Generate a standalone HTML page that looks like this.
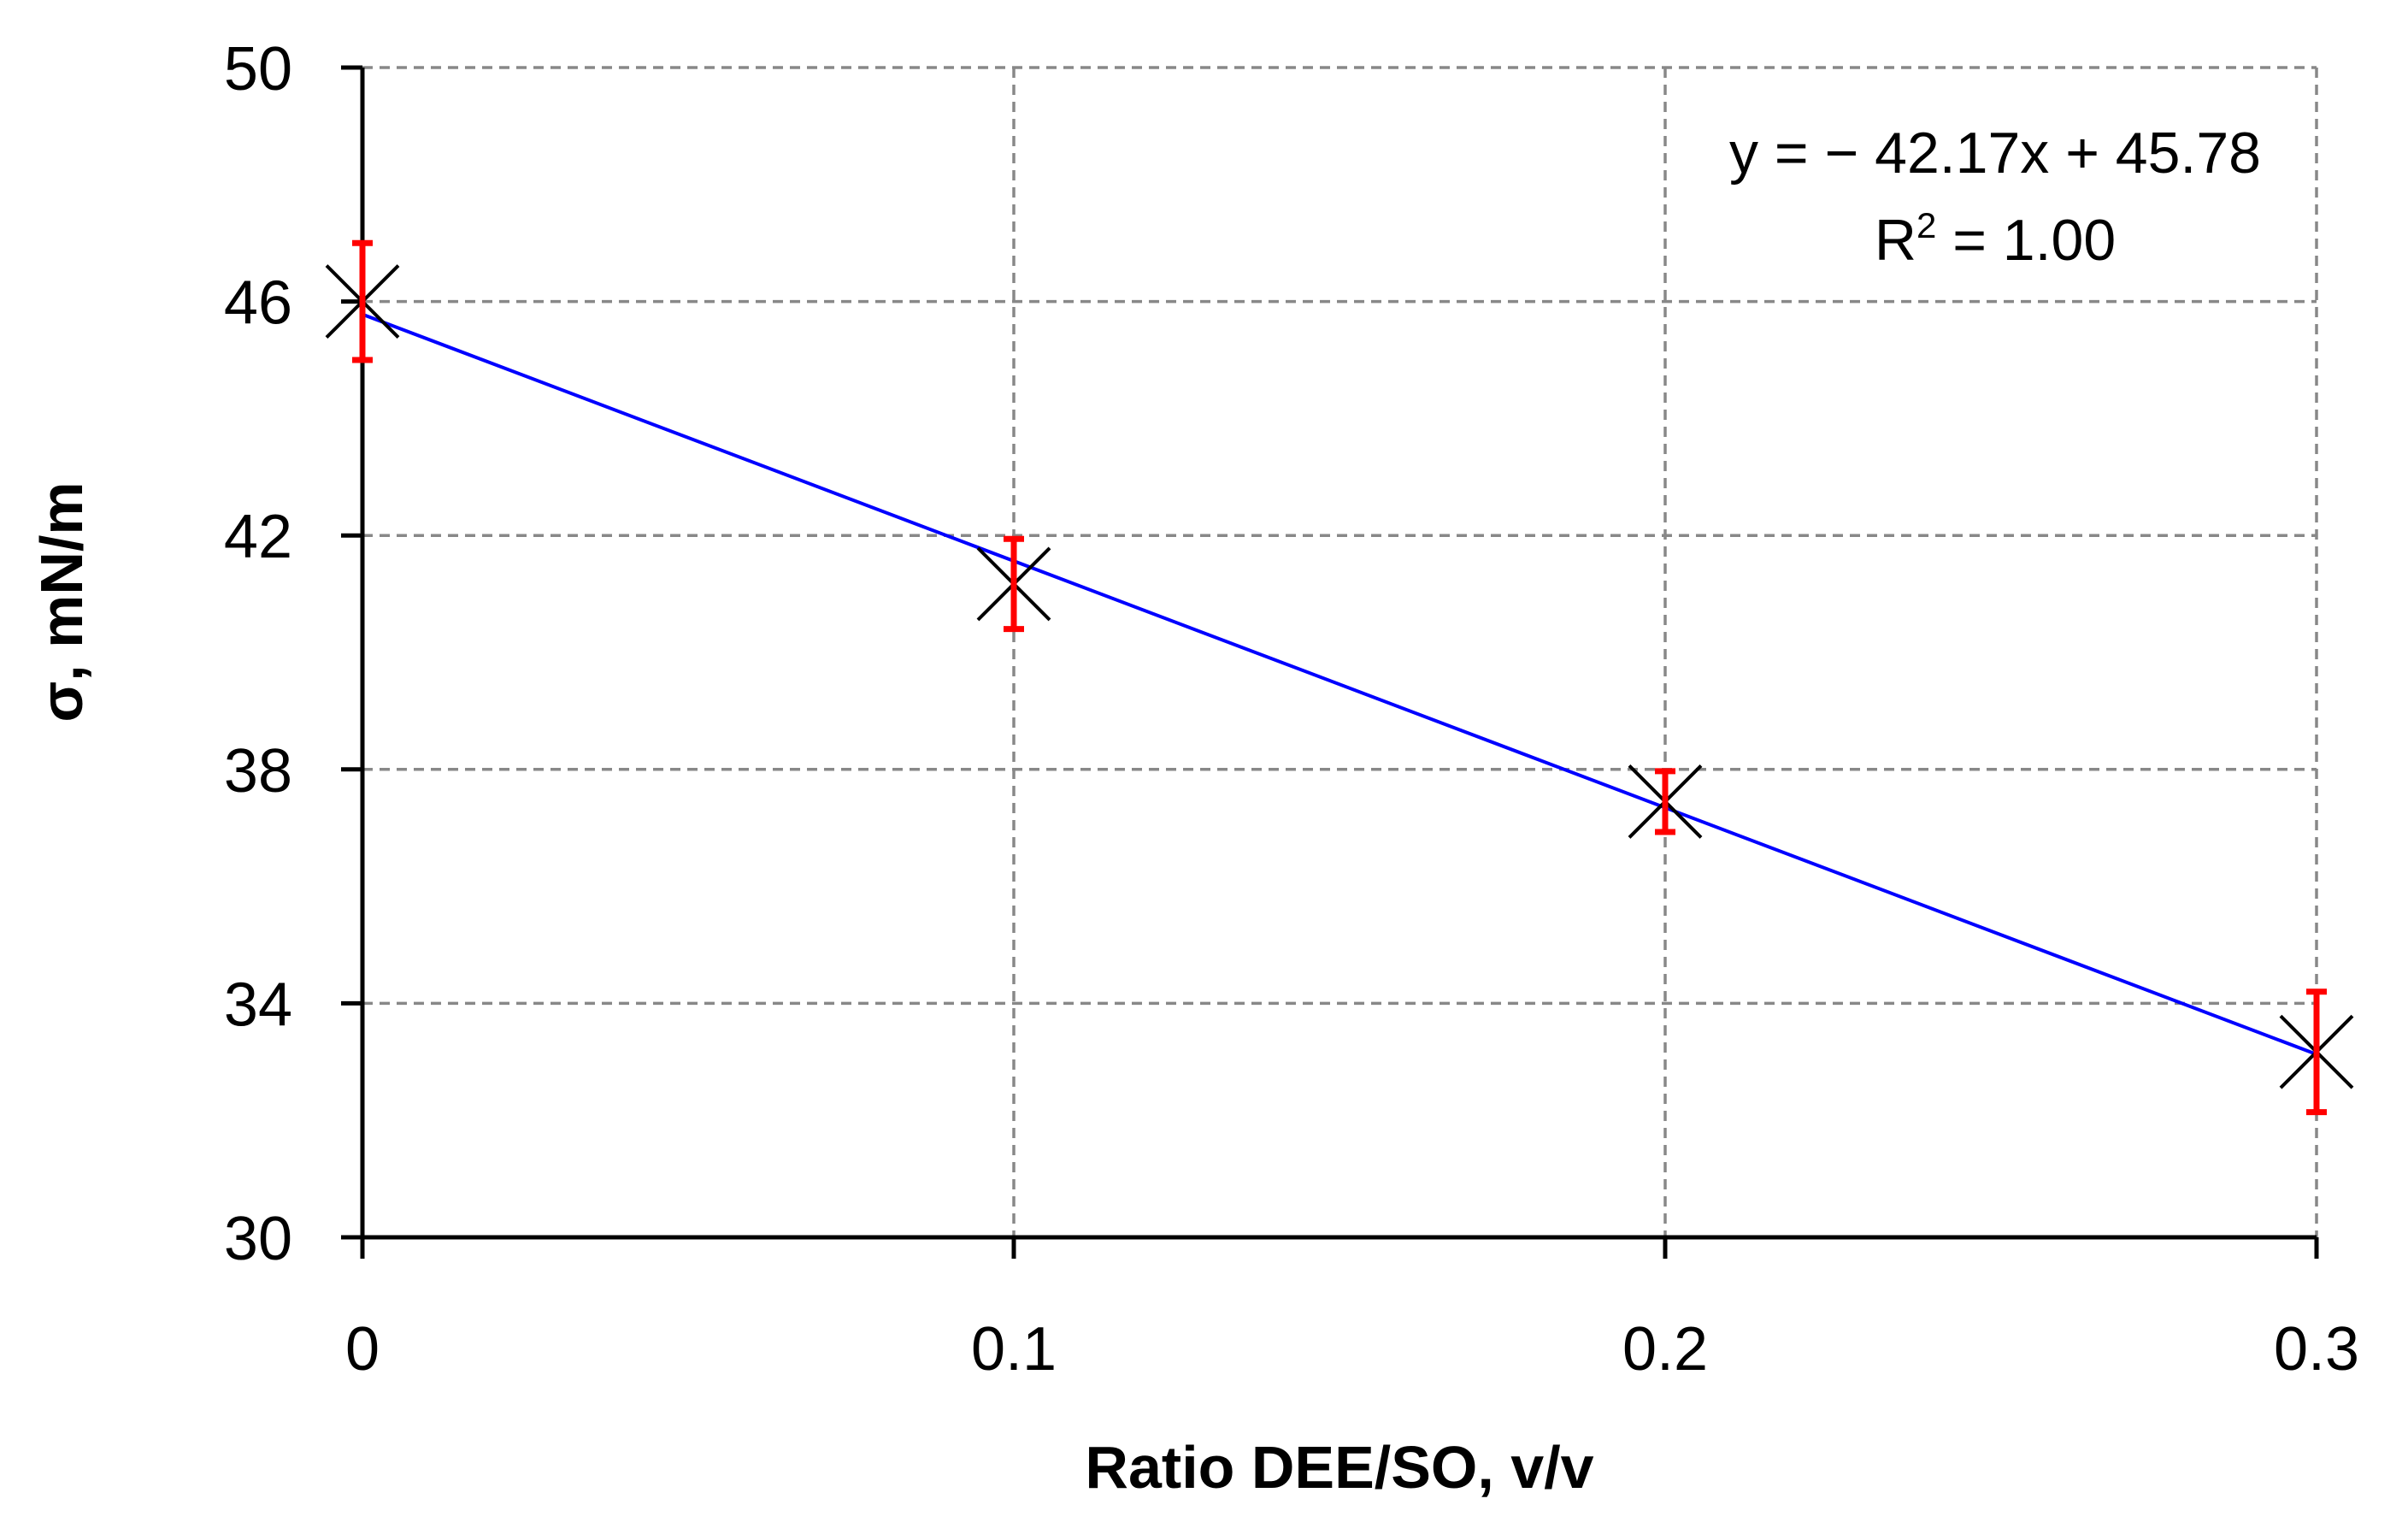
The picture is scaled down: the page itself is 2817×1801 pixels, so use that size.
<!DOCTYPE html>
<html><head><meta charset="utf-8"><style>
html,body{margin:0;padding:0;background:#fff;}
svg{display:block;font-family:"Liberation Sans",sans-serif;}
</style></head><body>
<svg id="chart" width="2817" height="1801" viewBox="0 0 2817 1801">
<g id="grid"></g>
<g id="axes"></g>
<g id="marks"></g>
<text x="2334" y="202" font-size="68" text-anchor="middle">y = − 42.17x + 45.78</text>
<text x="2334" y="304" font-size="68" text-anchor="middle">R<tspan font-size="42" dy="-26">2</tspan><tspan dy="26"> = 1.00</tspan></text>
<text x="1567" y="1740" font-size="70" font-weight="bold" text-anchor="middle">Ratio DEE/SO, v/v</text>
<text transform="translate(96,704) rotate(-90)" font-size="70" font-weight="bold" text-anchor="middle">σ, mN/m</text>
</svg>
<script>
const xCategories = [0, 0.1, 0.2, 0.3];
const yValues = [46.0, 41.17, 37.45, 33.17];
const yErrors = [1.0, 0.77, 0.52, 1.03];
const yTicks = [30, 34, 38, 42, 46, 50];
const xTickLabels = ["0", "0.1", "0.2", "0.3"];
const trendSlope = -42.17;
const trendIntercept = 45.78;

const NS = "http://www.w3.org/2000/svg";
const X0 = 424, X1 = 2710, Y0 = 1447, Y1 = 79;
const xs = v => X0 + (v - 0) / 0.3 * (X1 - X0);
const ys = v => Y0 - (v - 30) / 20 * (Y0 - Y1);
function mk(tag, attrs, parent) {
  const e = document.createElementNS(NS, tag);
  for (const k in attrs) e.setAttribute(k, attrs[k]);
  parent.appendChild(e);
  return e;
}
const grid = document.getElementById('grid');
const axes = document.getElementById('axes');
const marks = document.getElementById('marks');

yTicks.forEach(t => {
  if (t !== 30) {
    const l = mk('line', {x1: X0, x2: X1, y1: ys(t), y2: ys(t), stroke: '#888', 'stroke-width': 3.5, 'stroke-dasharray': '12 8'}, grid);
    
    
  }
  const tk = mk('line', {x1: X0 - 25, x2: X0, y1: ys(t), y2: ys(t), stroke: '#000', 'stroke-width': 5}, axes);
  
  
  const tx = mk('text', {x: 342, y: ys(t) + 26, 'font-size': 72, 'text-anchor': 'end'}, axes);
  tx.textContent = t;
  
  
});
xCategories.forEach((c, i) => {
  if (i !== 0) {
    const l = mk('line', {x1: xs(c), x2: xs(c), y1: Y1, y2: Y0, stroke: '#888', 'stroke-width': 3.5, 'stroke-dasharray': '12 8'}, grid);
    
    
  }
  const tk = mk('line', {x1: xs(c), x2: xs(c), y1: Y0, y2: Y0 + 25, stroke: '#000', 'stroke-width': 5}, axes);
  
  
  const tx = mk('text', {x: xs(c), y: 1602, 'font-size': 72, 'text-anchor': 'middle'}, axes);
  tx.textContent = xTickLabels[i];
  
  
});
const ya = mk('line', {x1: X0, x2: X0, y1: Y1, y2: Y0, stroke: '#000', 'stroke-width': 5}, axes);


const xa = mk('line', {x1: X0, x2: X1, y1: Y0, y2: Y0, stroke: '#000', 'stroke-width': 5}, axes);



const xmin = xCategories[0], xmax = xCategories[xCategories.length - 1];
const tl = mk('line', {x1: xs(xmin), y1: ys(trendSlope * xmin + trendIntercept), x2: xs(xmax), y2: ys(trendSlope * xmax + trendIntercept), stroke: '#0000ff', 'stroke-width': 4}, marks);



xCategories.forEach((c, i) => {
  const cx = xs(c), cy = ys(yValues[i]);
  const m = 42;
  const g = mk('g', {}, marks);
  
  
  mk('line', {x1: cx - m, y1: cy - m, x2: cx + m, y2: cy + m, stroke: '#000', 'stroke-width': 4}, g);
  mk('line', {x1: cx - m, y1: cy + m, x2: cx + m, y2: cy - m, stroke: '#000', 'stroke-width': 4}, g);
  const eg = mk('g', {stroke: '#ff0000', 'stroke-width': 7}, marks);
  
  
  const top = ys(yValues[i] + yErrors[i]), bot = ys(yValues[i] - yErrors[i]);
  mk('line', {x1: cx, x2: cx, y1: top, y2: bot}, eg);
  mk('line', {x1: cx - 12, x2: cx + 12, y1: top, y2: top}, eg);
  mk('line', {x1: cx - 12, x2: cx + 12, y1: bot, y2: bot}, eg);
});
</script>
</body></html>
